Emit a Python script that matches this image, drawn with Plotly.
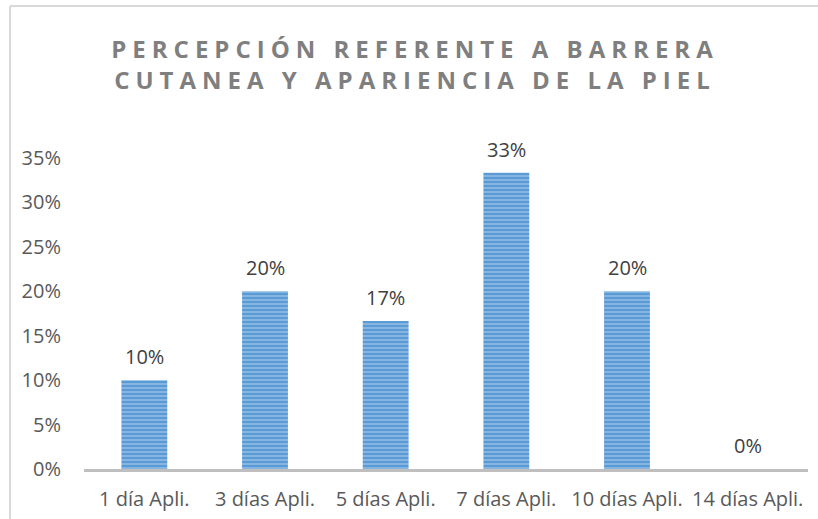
import plotly.graph_objects as go

# survey results: share of respondents per application period
categories = ["1 día Apli.", "3 días Apli.", "5 días Apli.", "7 días Apli.", "10 días Apli.", "14 días Apli."]
shares = [0.10, 0.20, 0.1667, 0.3333, 0.20, 0.0]
labels = ["10%", "20%", "17%", "33%", "20%", "0%"]
y_ticks = [0, 0.05, 0.10, 0.15, 0.20, 0.25, 0.30, 0.35]

title_text = "PERCEPCIÓN REFERENTE A BARRERA<br>CUTANEA Y APARIENCIA DE LA PIEL"

W, H = 818, 519
ml, mr, mt, mb = 84, 10, 158, 50

fig = go.Figure()
fig.add_trace(go.Bar(
    x=categories, y=shares,
    width=0.38,
    marker=dict(
        color="#5b9bd5",
        line=dict(width=0),
        pattern=dict(shape="-", fgcolor="#d6e6f5", bgcolor="#5b9bd5", size=4, solidity=0.35),
    ),
    hoverinfo="x+y",
))

# value labels above the bars
for c, v, t in zip(categories, shares, labels):
    fig.add_annotation(
        x=c, y=v, text=t, showarrow=False, yanchor="bottom", yshift=8,
        font=dict(family="Open Sans", size=20, color="#404040"),
    )

fig.update_layout(
    width=W, height=H,
    margin=dict(l=ml, r=mr, t=mt, b=mb),
    paper_bgcolor="white", plot_bgcolor="white",
    showlegend=False,
    title=dict(
        text='<span style="letter-spacing:6px">' + title_text + "</span>",
        x=415 / W, xanchor="center", xref="container",
        y=1 - 58 / H, yanchor="top", yref="container",
        font=dict(family="Open Sans", size=24, color="#7f7f7f", weight="bold"),
    ),
)

fig.update_xaxes(
    showline=True, linecolor="#bfbfbf", linewidth=3,
    showgrid=False, ticks="", automargin=False,
    tickfont=dict(family="Open Sans", size=20, color="#595959"),
    ticklabelstandoff=10,
)
fig.update_yaxes(
    range=[0, 0.35], tickvals=y_ticks, tickformat=".0%",
    showgrid=False, zeroline=False, showline=False, ticks="", automargin=False,
    tickfont=dict(family="Open Sans", size=20, color="#595959"),
    ticklabelstandoff=22,
)

# chart border (left and top edges visible in the frame)
pw, ph = W - ml - mr, H - mt - mb
x0 = (10 - ml) / pw
y1 = (H - 6 - mb) / ph
fig.add_shape(type="line", xref="paper", yref="paper", x0=x0, x1=x0, y0=-1, y1=y1,
              line=dict(color="#d9d9d9", width=2))
fig.add_shape(type="line", xref="paper", yref="paper", x0=x0, x1=2, y0=y1, y1=y1,
              line=dict(color="#d9d9d9", width=2))

# drop the default page margin so the figure sits at the window origin
fig.write_html("out.html", config={"displayModeBar": False},
               post_script="document.body.style.margin='0';")
